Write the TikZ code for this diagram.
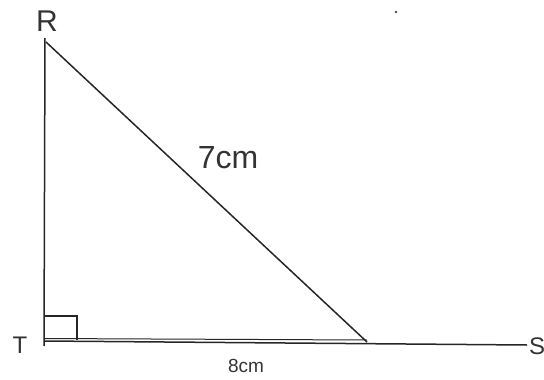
\documentclass[tikz,border=0pt]{standalone}
\usepackage{fontspec}
\setmainfont{Liberation Sans}
\begin{document}
\begin{tikzpicture}[x=1pt,y=-1pt,
  edge/.style={draw=black!85,line width=1.5pt},
  lbl/.style={inner sep=0pt,text=black!80},
  vlbl/.style={lbl,font=\fontsize{30}{30}\selectfont}]
\useasboundingbox (0,0) rectangle (544,380);
\coordinate (R) at (46,42);
\coordinate (Rtop) at (45,38);
\coordinate (T) at (44,341);
\coordinate (Tb) at (44,346);
\coordinate (S) at (527,345);
\coordinate (X) at (367,342);
\draw[edge] (Rtop) -- (Tb);
\draw[edge] (R) -- (X);
\draw[edge] (T) -- (S);
\draw[edge,line width=1pt] (44,338.5) -- (367,340);
\coordinate (q1) at (44,316);
\coordinate (q2) at (77,316);
\coordinate (q3) at (77,340);
\draw[draw=black!85,line width=1.1pt] (q1) -- (q2) -- (q3);
\node[vlbl] (lR) at (47,21) {R};
\node[vlbl,font=\fontsize{24}{24}\selectfont] (lT) at (20,345) {T};
\node[vlbl,font=\fontsize{24}{24}\selectfont] (lS) at (537,346) {S};
\node[lbl,font=\fontsize{32}{32}\selectfont] (l7) at (228,158) {7cm};
\node[lbl,font=\fontsize{19}{19}\selectfont] (l8) at (246,366) {8cm};
\fill[black!70] (396,12) circle (1.3);
\end{tikzpicture}
\end{document}
